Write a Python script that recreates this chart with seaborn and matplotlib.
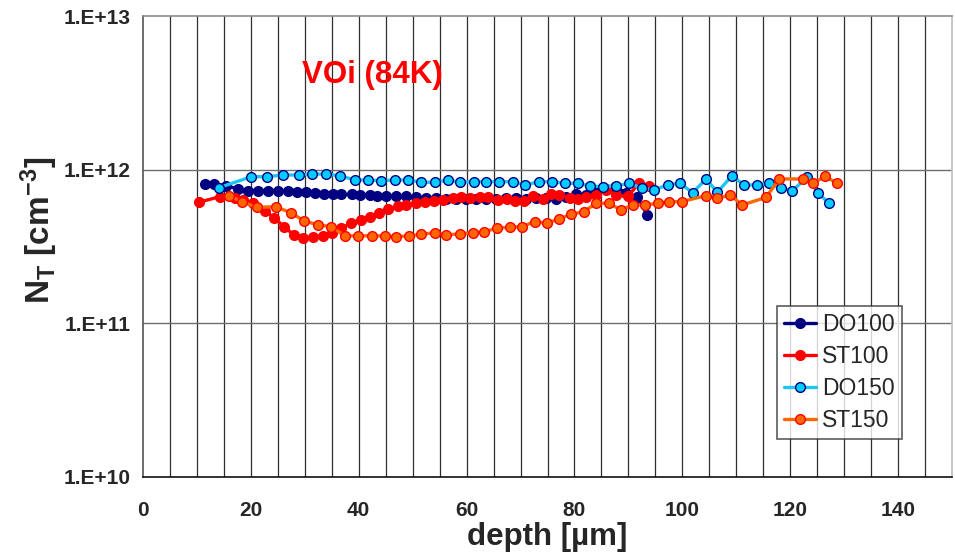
import numpy as np
import pandas as pd
import matplotlib
matplotlib.use("Agg")
import matplotlib.pyplot as plt
import matplotlib.ticker as mticker
import seaborn as sns

# depth profiles of the VOi trap concentration (units of 1e11 cm^-3)
do100_depth = [11.5, 13.1, 15.4, 17.6, 19.4, 21.3, 23.1, 25.0, 26.9, 28.5,
               30.2, 31.9, 33.5, 35.2, 36.8, 38.7, 40.2, 42.0, 43.4, 45.1,
               47.0, 48.8, 50.6, 52.5, 54.3, 56.2, 58.0, 59.9, 61.7, 63.6,
               65.4, 67.3, 69.1, 71.0, 72.8, 74.7, 76.5, 78.4, 80.2, 82.1,
               83.9, 85.8, 87.6, 89.5, 91.6, 93.5]
do100_nt = [8.05, 8.05, 7.85, 7.5, 7.3, 7.3, 7.3, 7.28, 7.24, 7.16,
            7.12, 7.07, 6.9, 6.93, 6.93, 6.9, 6.85, 6.82, 6.78, 6.75,
            6.72, 6.7, 6.6, 6.55, 6.5, 6.45, 6.45, 6.4, 6.4, 6.45,
            6.45, 6.5, 6.5, 6.45, 6.5, 6.5, 6.45, 6.6, 6.9, 6.8,
            7.2, 7.5, 7.7, 7.1, 6.6, 5.1]

st100_depth = [10.4, 14.3, 17.0, 18.6, 20.4, 22.6, 24.3, 26.1, 28.0, 29.7,
               31.5, 33.3, 35.1, 36.8, 38.5, 40.4, 42.0, 43.8, 45.4, 47.2,
               48.8, 50.6, 52.2, 53.9, 55.6, 57.5, 59.0, 60.6, 62.4, 63.9,
               65.8, 67.4, 68.9, 70.7, 72.3, 74.1, 75.7, 77.2, 79.1, 80.6,
               82.2, 84.0, 85.9, 87.7, 89.9, 92.0, 93.9]
st100_nt = [6.14, 6.68, 6.52, 6.35, 6.04, 5.39, 4.87, 4.26, 3.76, 3.58,
            3.63, 3.71, 3.89, 4.16, 4.48, 4.71, 4.95, 5.25, 5.52, 5.8,
            5.89, 6.04, 6.2, 6.25, 6.35, 6.52, 6.6, 6.52, 6.6, 6.6,
            6.35, 6.45, 6.3, 6.3, 6.77, 6.45, 6.97, 6.87, 6.52, 6.45,
            6.6, 6.87, 7.35, 6.8, 6.7, 8.2, 7.85]

do150_depth = [14.1, 20.1, 23.0, 26.0, 28.9, 31.4, 34.0, 36.6, 39.3, 41.7,
               44.2, 46.7, 49.1, 51.6, 54.1, 56.5, 58.7, 61.4, 63.6, 66.1,
               68.6, 70.9, 73.4, 75.9, 78.2, 80.6, 82.9, 85.2, 87.7, 90.2,
               92.5, 94.8, 97.3, 99.6, 101.9, 104.4, 106.5, 109.2, 111.4, 113.8,
               116.1, 118.3, 120.4, 123.2, 125.1, 127.2]
do150_nt = [7.64, 9.0, 9.0, 9.23, 9.23, 9.37, 9.37, 9.1, 8.57, 8.57,
            8.48, 8.57, 8.57, 8.28, 8.28, 8.57, 8.28, 8.35, 8.35, 8.35,
            8.35, 7.95, 8.35, 8.35, 8.15, 8.15, 7.83, 7.75, 7.83, 8.15,
            7.57, 7.38, 7.98, 8.15, 7.08, 8.7, 7.13, 9.14, 7.95, 7.95,
            8.15, 7.57, 7.28, 9.0, 7.08, 6.04]

st150_depth = [16.0, 18.3, 21.1, 24.6, 27.4, 29.8, 32.4, 34.9, 37.4, 39.9,
               42.4, 44.8, 47.0, 49.3, 51.6, 54.1, 56.2, 58.7, 61.1, 63.3,
               65.6, 68.0, 70.3, 72.6, 74.9, 77.1, 79.4, 81.7, 84.0, 86.4,
               88.6, 90.8, 93.1, 95.4, 97.6, 99.9, 104.4, 106.5, 108.9, 111.1,
               115.5, 118.0, 122.3, 124.3, 126.5, 128.6]
st150_nt = [6.77, 6.19, 5.69, 5.74, 5.25, 4.66, 4.37, 4.26, 3.71, 3.71,
            3.71, 3.71, 3.66, 3.71, 3.80, 3.89, 3.76, 3.82, 3.89, 3.95,
            4.16, 4.22, 4.26, 4.59, 4.48, 4.78, 5.13, 5.33, 6.04, 6.04,
            5.47, 5.89, 5.89, 6.04, 6.19, 6.19, 6.78, 6.52, 6.84, 5.89,
            6.6, 8.7, 8.7, 8.15, 9.1, 8.15]

series_names = ["DO100", "ST100", "DO150", "ST150"]
y_ticks = [1e10, 1e11, 1e12, 1e13]
x_ticks = [0, 20, 40, 60, 80, 100, 120, 140]

sns.set_style("white")
plt.rcParams["font.family"] = ["Liberation Sans", "DejaVu Sans"]
plt.rcParams["mathtext.fontset"] = "custom"
plt.rcParams["mathtext.rm"] = "Liberation Sans:bold"
plt.rcParams["mathtext.bf"] = "Liberation Sans:bold"
plt.rcParams["mathtext.default"] = "bf"

frames = []
for name, d, v in [("DO100", do100_depth, do100_nt),
                   ("ST100", st100_depth, st100_nt),
                   ("DO150", do150_depth, do150_nt),
                   ("ST150", st150_depth, st150_nt)]:
    frames.append(pd.DataFrame({"depth": d, "NT": np.array(v) * 1e11, "sample": name}))
df = pd.concat(frames, ignore_index=True)

styles = {
    "DO100": dict(color="#000080", markerfacecolor="#000080", markeredgecolor="#000080"),
    "ST100": dict(color="#FF0000", markerfacecolor="#FF0000", markeredgecolor="#FF0000"),
    "DO150": dict(color="#1BC6F2", markerfacecolor="#00CCFF", markeredgecolor="#000080"),
    "ST150": dict(color="#FF6600", markerfacecolor="#FF6600", markeredgecolor="#FF0000"),
}

fig = plt.figure(figsize=(9.55, 5.55), dpi=100)
ax = fig.add_axes([143 / 955, 1 - 477 / 555, 809 / 955, 461 / 555])

# grid: decades horizontally, every 5 um vertically
ax.set_xlim(0, 150)
ax.set_yscale("log")
ax.set_ylim(1e10, 1e13)
for xv in np.arange(5, 150, 5):
    ax.axvline(xv, color="#2e2e2e", lw=0.9, zorder=0)
for yv in y_ticks[1:-1]:
    ax.axhline(yv, color="#6e6e6e", lw=1.0, zorder=0)

for name in series_names:
    sub = df[df["sample"] == name]
    sns.lineplot(data=sub, x="depth", y="NT", ax=ax, label=name,
                 marker="o", markersize=7, linewidth=2.4, markeredgewidth=1.0,
                 errorbar=None, sort=False, zorder=3, **styles[name])

ax.set_xticks(x_ticks)
ax.set_yticks(y_ticks)
ax.yaxis.set_minor_locator(mticker.NullLocator())
ax.yaxis.set_major_formatter(mticker.FuncFormatter(lambda v, p: "1.E+%d" % round(np.log10(v))))
ax.tick_params(axis="x", direction="out", length=5, width=1, color="#222222",
               pad=12, labelsize=15)
ax.tick_params(axis="y", direction="out", length=3.6, width=1, color="#555555",
               pad=5, labelsize=15)
for lab in ax.get_xticklabels() + ax.get_yticklabels():
    lab.set_fontweight("bold")

ax.spines["left"].set_color("#555555")
ax.spines["bottom"].set_color("#111111")
ax.spines["top"].set_color("#8c8c8c")
ax.spines["right"].set_color("#bdbdbd")
for s in ax.spines.values():
    s.set_linewidth(1.2)

ax.set_xlabel("depth [µm]", fontsize=22.5, fontweight="bold")
ax.set_ylabel(r"N$_\mathbf{T}$ [cm$^\mathbf{-3}$]", fontsize=24, fontweight="bold")
ax.xaxis.set_label_coords(0.5, -0.098)
ax.xaxis.label.set_va("top")
ax.yaxis.set_label_coords(-0.103, 0.535)

ax.text(0.284, 0.872, "VOi (84K)", transform=ax.transAxes, color="#FF0000",
        fontsize=22.5, fontweight="bold", ha="center", va="center")

leg = ax.legend(loc="upper left", bbox_to_anchor=(0.784, 0.371), borderaxespad=0,
                fontsize=16.5, frameon=True, fancybox=False, handlelength=1.37,
                handletextpad=0.3, labelspacing=0.39, borderpad=0.3)
leg.get_frame().set_edgecolor("#333333")
leg.get_frame().set_linewidth(1.2)

fig.savefig("out.png", dpi=100, facecolor="white")
